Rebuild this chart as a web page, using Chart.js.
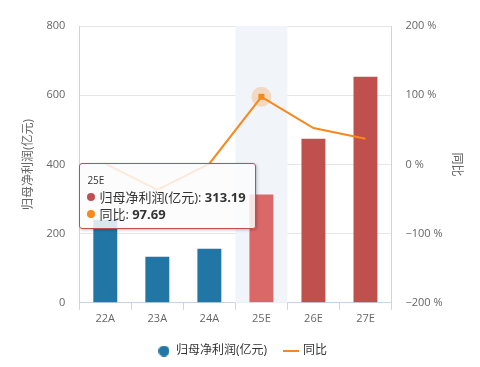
<!DOCTYPE html>
<html>
<head>
<meta charset="utf-8">
<script src="https://cdn.jsdelivr.net/npm/chart.js@4/dist/chart.umd.min.js"></script>
<style>
  html, body { margin: 0; padding: 0; background: #fff; }
  #wrap { position: relative; width: 480px; height: 367px; }
  #tip {
    position: absolute; display: none; pointer-events: none;
    background: rgba(252,252,252,0.85); border: 1px solid #c0504e; border-radius: 3px;
    box-shadow: 1px 1px 3px rgba(0,0,0,0.25);
    font-family: "Open Sans", "Noto Sans CJK SC", sans-serif; color: #333;
    padding: 9px 9px 5px 7px; white-space: nowrap;
  }
  #tip .t { font-size: 10px; margin-bottom: 2px; }
  #tip .r { font-size: 13px; line-height: 17px; }
  #tip .d { display: inline-block; width: 8px; height: 8px; border-radius: 50%; margin-right: 4px; vertical-align: 1px; }
</style>
</head>
<body>
<div id="wrap">
  <canvas id="c" width="480" height="367"></canvas>
  <div id="tip"></div>
</div>
<script>
const labels = ['22A', '23A', '24A', '25E', '26E', '27E'];
const profit = [240, 133, 156, 313.19, 474, 653];
const yoy = [1, -37, 1, 97.69, 52.5, 37];
const leftTicks = [0, 200, 400, 600, 800];
const rightTicks = [-200, -100, 0, 100, 200];
const activeIndex = 3;

const blue = '#2176a6';
const red = '#c0504e';
const orange = '#f7891c';
const axisColor = '#c8d4e8';
const font = '"Open Sans", "Noto Sans CJK SC", sans-serif';

// small legend markers
function marker(w, h, draw) {
  const c = document.createElement('canvas');
  c.width = w; c.height = h;
  draw(c.getContext('2d'));
  return c;
}
const dotMarker = marker(11, 11, ctx => {
  ctx.fillStyle = blue;
  ctx.beginPath(); ctx.arc(5.5, 5.5, 5.5, 0, Math.PI * 2); ctx.fill();
});
const lineMarker = marker(16, 2, ctx => {
  ctx.fillStyle = orange;
  ctx.fillRect(0, 0, 16, 2);
});

const hoverPlugin = {
  id: 'hoverBand',
  beforeDatasetsDraw(chart) {
    const x = chart.scales.x, area = chart.chartArea, ctx = chart.ctx;
    const w = x.width / labels.length;
    const cx = x.getPixelForValue(activeIndex);
    ctx.save();
    ctx.fillStyle = '#f1f5fa';
    ctx.fillRect(cx - w / 2, area.top, w, area.bottom - area.top);
    ctx.restore();
  },
  afterDatasetsDraw(chart) {
    const ctx = chart.ctx;
    const cx = chart.scales.x.getPixelForValue(activeIndex);
    const cy = chart.scales.y1.getPixelForValue(yoy[activeIndex]);
    ctx.save();
    ctx.fillStyle = 'rgba(247,137,28,0.25)';
    ctx.beginPath();
    ctx.arc(cx, cy, 10, 0, Math.PI * 2);
    ctx.fill();
    ctx.fillStyle = orange;
    ctx.fillRect(cx - 3, cy - 3, 6, 6);
    ctx.restore();
  }
};

const tipEl = document.getElementById('tip');
function externalTip(context) {
  const m = context.tooltip;
  if (m.opacity === 0) { tipEl.style.display = 'none'; return; }
  const i = m.dataPoints[0].dataIndex;
  tipEl.innerHTML =
    '<div class="t">' + labels[i] + '</div>' +
    '<div class="r"><span class="d" style="background:' + red + '"></span>归母净利润(亿元): <b>' + profit[i].toFixed(2) + '</b></div>' +
    '<div class="r"><span class="d" style="background:' + orange + '"></span>同比: <b>' + yoy[i].toFixed(2) + '</b></div>';
  tipEl.style.display = 'block';
  tipEl.style.left = (m.caretX - tipEl.offsetWidth - 6) + 'px';
  tipEl.style.top = '163px';
}

const chart = new Chart(document.getElementById('c'), {
  type: 'bar',
  data: {
    labels: labels,
    datasets: [{
      type: 'line',
      label: '同比',
      data: yoy,
      yAxisID: 'y1',
      borderColor: orange,
      backgroundColor: orange,
      borderWidth: 2,
      pointRadius: 0,
      pointHoverRadius: 0,
      tension: 0,
      order: 0
    }, {
      label: '归母净利润(亿元)',
      data: profit,
      yAxisID: 'y',
      backgroundColor: labels.map(l => l.endsWith('A') ? blue : red),
      hoverBackgroundColor: labels.map(l => l.endsWith('A') ? blue : '#da6869'),
      barPercentage: 0.46,
      categoryPercentage: 1,
      order: 1
    }]
  },
  options: {
    responsive: false,
    animation: false,
    events: [],
    layout: { padding: { left: 21, right: 16, top: 26, bottom: 0 } },
    plugins: {
      legend: {
        position: 'bottom',
        labels: {
          usePointStyle: true,
          boxWidth: 12,
          boxHeight: 12,
          padding: 18,
          color: '#333',
          font: { family: font, size: 12 },
          generateLabels(chart) {
            return [{
              text: '归母净利润(亿元)', fillStyle: blue, strokeStyle: blue,
              pointStyle: dotMarker, lineWidth: 0, datasetIndex: 1, fontColor: '#333'
            }, {
              text: '同比', fillStyle: orange, strokeStyle: orange,
              pointStyle: lineMarker, lineWidth: 0, datasetIndex: 0, fontColor: '#333'
            }];
          }
        }
      },
      tooltip: { enabled: false, external: externalTip, mode: 'index', intersect: false }
    },
    scales: {
      x: {
        grid: { drawOnChartArea: false, drawTicks: true, tickLength: 7, color: axisColor, offset: true },
        border: { color: axisColor },
        ticks: { color: '#666', font: { family: font, size: 11 }, padding: 2 }
      },
      y: {
        position: 'left',
        min: 0, max: 800,
        afterBuildTicks(axis) { axis.ticks = leftTicks.map(v => ({ value: v })); },
        afterFit(axis) { axis.width -= 3; },
        grid: { color: '#e6e6e6', drawTicks: false },
        border: { color: axisColor },
        ticks: { color: '#666', font: { family: font, size: 11 }, padding: 14 },
        title: { display: true, text: '归母净利润(亿元)', color: '#666', font: { family: font, size: 12 }, padding: 0 }
      },
      y1: {
        position: 'right',
        min: -200, max: 200,
        afterBuildTicks(axis) { axis.ticks = rightTicks.map(v => ({ value: v })); },
        afterFit(axis) { axis.width -= 7; },
        grid: { drawOnChartArea: false, drawTicks: false },
        border: { color: axisColor },
        ticks: {
          color: '#666', font: { family: font, size: 11 }, padding: 14,
          callback: v => String(v).replace('-', '\u2212') + ' %'
        },
        title: { display: true, text: '同比', color: '#666', font: { family: font, size: 12 }, padding: 0 }
      }
    }
  },
  plugins: [hoverPlugin]
});

chart.setActiveElements([{ datasetIndex: 1, index: activeIndex }]);
chart.tooltip.setActiveElements([
  { datasetIndex: 1, index: activeIndex },
  { datasetIndex: 0, index: activeIndex }
], { x: 0, y: 0 });
chart.update();
</script>
</body>
</html>
